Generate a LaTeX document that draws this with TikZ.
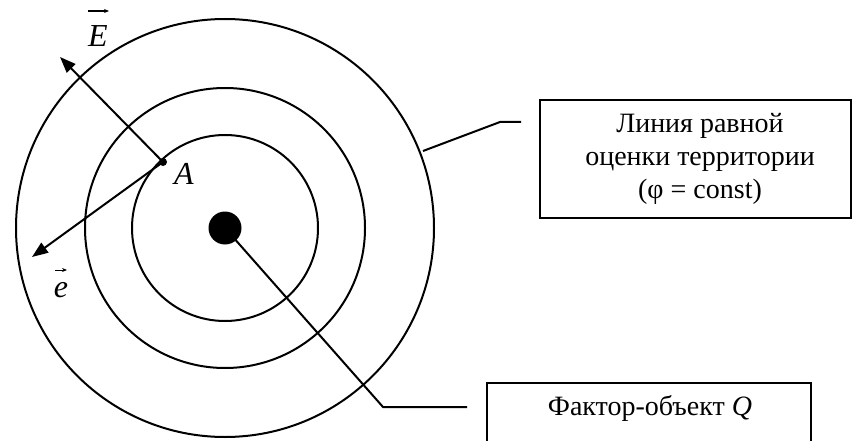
\documentclass[tikz,border=0pt]{standalone}
\usepackage{fontspec}
\setmainfont{Liberation Serif}
\usetikzlibrary{arrows.meta}
\begin{document}
\begin{tikzpicture}[x=1pt,y=-1pt,
  ln/.style={line width=2pt},
  vecarrow/.style={ln,-{Triangle[length=16pt,width=12pt]}},
  overarrow/.style={line width=1.2pt,-{Stealth[length=5pt,width=4pt]}},
  boxstyle/.style={draw,line width=2pt,inner sep=0pt},
  txt/.style={font=\fontsize{28}{33}\selectfont,align=center},
  lbl/.style={font=\fontsize{32}{34}\selectfont\itshape,inner sep=0pt}]
\useasboundingbox (0,0) rectangle (854,441);
\clip (0,0) rectangle (854,441);
\coordinate (O) at (225,228);
\draw[ln] (O) circle (209);
\draw[ln] (O) circle (140);
\draw[ln] (O) circle (93);
\node (Q) [circle,fill=black,minimum size=33pt,inner sep=0pt] at (O) {};
\node (A) [circle,fill=black,minimum size=8pt,inner sep=0pt] at (163,162) {};
\coordinate (Etip) at (60,57);
\coordinate (etip) at (32,257);
\draw[vecarrow] (A.center) -- (Etip);
\draw[vecarrow] (A.center) -- (etip);
\node (Elbl) [lbl] at (98,36) {E};
\coordinate (Ea) at (88,11);
\coordinate (Eb) at (109,11);
\draw[overarrow] (Ea) -- (Eb);
\node (Albl) [lbl] at (184,174) {A};
\node (elbl) [lbl] at (61,290) {e};
\coordinate (ea) at (55,270);
\coordinate (eb) at (67,270);
\draw[overarrow,line width=0.9pt] (ea) -- (eb);
% box 1
\node (box1) [boxstyle,minimum width=311pt,minimum height=118pt] at (695.5,159) {};
\node (t1) [txt] at (700,159) {Линия равной\\оценки территории\\(φ = const)};
\coordinate (L1a) at (423,151);
\coordinate (L1b) at (500,122);
\coordinate (L1c) at (521,122);
\draw[ln] (L1a) -- (L1b) -- (L1c);
% box 2
\node (box2) [boxstyle,minimum width=324pt,minimum height=66pt,anchor=north] at (649,382) {};
\node (t2) [txt] at (650,408) {Фактор-объект \textit{Q}};
\coordinate (L2b) at (383,407);
\coordinate (L2c) at (467,407);
\draw[ln] (Q.center) -- (L2b) -- (L2c);
\end{tikzpicture}
\end{document}
